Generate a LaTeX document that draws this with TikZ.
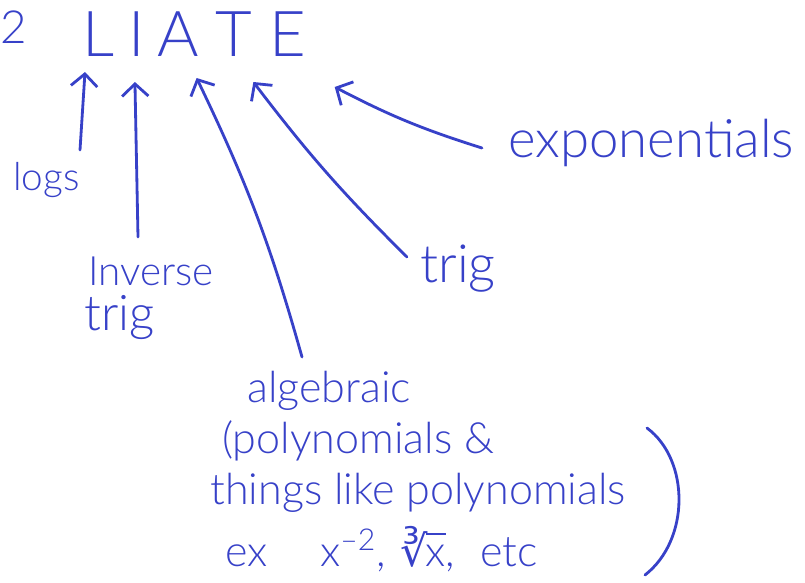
\documentclass[tikz,border=0pt]{standalone}
\usepackage{fontspec}
\setmainfont{Lato Light}
\newfontfamily\symfont{DejaVu Sans}
\usepackage{xcolor}
\definecolor{InkBlue}{RGB}{55,65,200}
\usepackage{tikz}
\usetikzlibrary{arrows.meta,positioning}
\newcommand{\cuberoot}[1]{{\symfont\char"221B}\kern-0.06em\vbox{\hrule height 0.9pt\kern 5.5pt\hbox{#1}}}

\begin{document}
\begin{tikzpicture}[
  x=0.02cm, y=-0.02cm,
  node distance=0.3cm,
  letter/.style={inner sep=0pt, text=InkBlue, font=\fontsize{36}{42}\selectfont},
  note/.style={inner sep=0pt, anchor=base west, text=InkBlue},
  arr/.style={-{Straight Barb[length=7pt,width=15pt]}, line width=1.6pt,
              color=InkBlue, line cap=round},
  ink/.style={line width=1.6pt, color=InkBlue, line cap=round}
]
  \useasboundingbox (0,0) rectangle (805,582);

  % the mnemonic
  \node[letter, anchor=base west, font=\fontsize{26}{30}\selectfont] (two) at (0,43) {2};
  \node[letter, anchor=base] (L) at (99,56) {L};
  \node[letter, right=0.26cm of L] (I) {I};
  \node[letter, right=0.24cm of I] (A) {A};
  \node[letter, right=0.3cm of A] (T) {T};
  \node[letter, right=0.34cm of T] (E) {E};

  % labels
  \node[note, font=\fontsize{22}{26}\selectfont] (logs) at (13,190) {logs};
  \node[note, font=\fontsize{23}{27}\selectfont] (inv) at (88,285) {Inverse};
  \node[note, font=\fontsize{28}{32}\selectfont] (invtrig) at (84,330) {trig};
  \node[note, font=\fontsize{30}{34}\selectfont] (trig) at (420,282) {trig};
  \node[note, font=\fontsize{30}{35}\selectfont] (expo) at (508,157) {exponentials};

  \node[note, font=\fontsize{24.5}{29}\selectfont] (alg) at (247,402) {algebraic};
  \node[note, font=\fontsize{24.5}{29}\selectfont] (poly) at (222,453) {(polynomials \&};
  \node[note, font=\fontsize{24.5}{29}\selectfont] (like) at (210,504) {things like polynomials};
  \node[note, font=\fontsize{24.5}{29}\selectfont] (eg) at (225,566)
    {ex\hspace{1.05cm}x\textsuperscript{\textendash2},\hspace{0.3cm}\cuberoot{x},\hspace{0.5cm}etc};

  % arrows up to the letters
  \draw[arr] ([shift={(67,-40)}]logs.base west) -- ([shift={(-14,16)}]L.base);
  \draw[arr] ([shift={(50,-48)}]inv.base west) -- ([shift={(-2,26)}]I.base);
  \draw[arr] ([shift={(55,-45)}]alg.base west) to[bend right=5] ([shift={(18,22)}]A.base);
  \draw[arr] ([shift={(-13,-25)}]trig.base west) to[bend left=4] ([shift={(20,26)}]T.base);
  \draw[arr] ([shift={(-26,-9)}]expo.base west) to[bend left=5] ([shift={(47,31)}]E.base);

  % big closing bracket
  \draw[ink] (647,428) .. controls (690,460) and (690,540) .. (645,575);
\end{tikzpicture}
\end{document}
